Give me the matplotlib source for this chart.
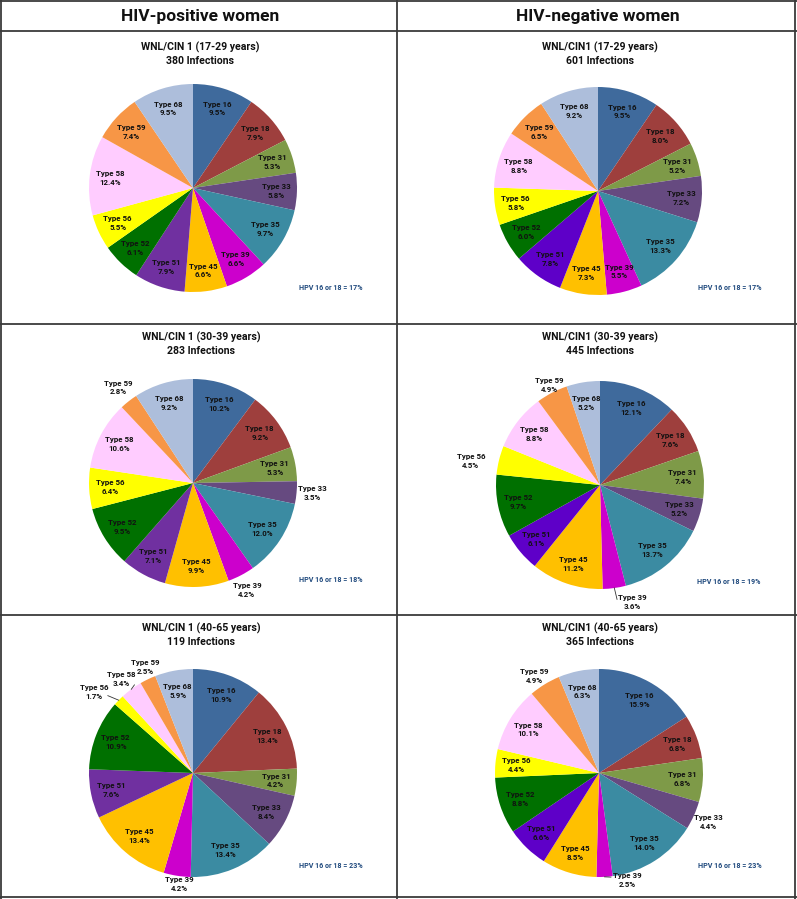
import matplotlib
matplotlib.use('Agg')
import matplotlib.pyplot as plt
import numpy as np

plt.rcParams['font.family'] = ['Roboto', 'DejaVu Sans']

W, H = 797, 899

# ---------------- data ----------------
types = ['16', '18', '31', '33', '35', '39', '45', '51', '52', '56', '58', '59', '68']
col_titles = ['HIV-positive women', 'HIV-negative women']
age_groups = ['17-29', '30-39', '40-65']
subtitle_prefix = ['WNL/CIN 1', 'WNL/CIN1']

pos_17_29 = [9.5, 7.9, 5.3, 5.8, 9.7, 6.6, 6.6, 7.9, 6.1, 5.5, 12.4, 7.4, 9.5]
neg_17_29 = [9.5, 8.0, 5.2, 7.2, 13.3, 5.5, 7.3, 7.8, 6.0, 5.8, 8.8, 6.5, 9.2]
pos_30_39 = [10.2, 9.2, 5.3, 3.5, 12.0, 4.2, 9.9, 7.1, 9.5, 6.4, 10.6, 2.8, 9.2]
neg_30_39 = [12.1, 7.6, 7.4, 5.2, 13.7, 3.6, 11.2, 6.1, 9.7, 4.5, 8.8, 4.9, 5.2]
pos_40_65 = [10.9, 13.4, 4.2, 8.4, 13.4, 4.2, 13.4, 7.6, 10.9, 1.7, 3.4, 2.5, 5.9]
neg_40_65 = [15.9, 6.8, 6.8, 4.4, 14.0, 2.5, 8.5, 6.6, 8.8, 4.4, 10.1, 4.9, 6.3]

infections = [380, 601, 283, 445, 119, 365]
hpv_16_or_18 = [17, 17, 18, 19, 23, 23]

panel_values = [pos_17_29, neg_17_29, pos_30_39, neg_30_39, pos_40_65, neg_40_65]

colors_pos = ['#3F6A9C', '#9E3F3D', '#7E9A48', '#664A80', '#3B8BA2', '#CC00CC', '#FFC000',
              '#7030A0', '#007000', '#FFFF00', '#FFCCFF', '#F79646', '#ADBEDB']
colors_neg = ['#3F6A9C', '#9E3F3D', '#7E9A48', '#664A80', '#3B8BA2', '#CC00CC', '#FFC000',
              '#5E00C8', '#007000', '#FFFF00', '#FFCCFF', '#F79646', '#ADBEDB']

# ---------------- layout ----------------
centers = [(193, 188), (598, 191), (193, 483), (600, 485), (193, 773), (599, 773)]
R = 104
title_xy = [(200, 47), (600, 47), (201, 337), (600, 337), (201, 628), (600, 628)]
hpv_xy = [(331, 288), (730, 288), (331, 580), (729, 582), (331, 866), (730, 866)]
# outside labels: panel -> {type: (radial factor, dx, dy, leader end offset or None)}
outside = {
    2: {'59': (1.18, 1, 1, None), '33': (1.17, -2, -1, None), '39': (1.16, -2, 0, None)},
    3: {'59': (1.13, 4, 4, None), '56': (1.22, -6, 6, None),
        '39': (1.12, 16, 2, (-15, -3))},
    4: {'59': (1.16, 5, 3, None), '58': (1.16, 0, 3, (13, 6)),
        '56': (1.2, -10, 6, (14, 4)), '39': (1.06, 3, 2, None)},
    5: {'59': (1.15, -2, 5, None), '33': (1.17, -2, -1, None),
        '39': (1.07, 22, -4, (-16, -3))},
}

fig = plt.figure(figsize=(W / 100, H / 100), dpi=100)
ax = fig.add_axes([0, 0, 1, 1])


def Y(y):
    return H - y


txt_color = '#111111'
lab_fs = 5.7

for i, vals in enumerate(panel_values):
    cx, cy = centers[i]
    cols = colors_pos if i % 2 == 0 else colors_neg
    wedges, _ = ax.pie(vals, colors=cols, startangle=90, counterclock=False,
                       radius=R, center=(cx, Y(cy)), frame=False,
                       wedgeprops=dict(linewidth=0, antialiased=True))
    out = outside.get(i, {})
    for w, t, v in zip(wedges, types, vals):
        mid = np.deg2rad((w.theta1 + w.theta2) / 2)
        label = f'Type {t}\n{v:.1f}%'
        if t in out:
            f, dx, dy, lead = out[t]
            lx = cx + f * R * np.cos(mid) + dx
            ly = cy - f * R * np.sin(mid) + dy
            if lead is not None:
                ex = cx + 1.0 * R * np.cos(mid)
                ey = cy - 1.0 * R * np.sin(mid)
                ax.plot([ex, lx + lead[0]], [Y(ey), Y(ly + lead[1])],
                        color='#333333', lw=0.6)
        else:
            lx = cx + 0.8 * R * np.cos(mid)
            ly = cy - 0.8 * R * np.sin(mid)
        ax.text(lx, Y(ly), label, ha='center', va='center', fontsize=lab_fs,
                fontweight='bold', color=txt_color, linespacing=1.3)

    col = i % 2
    row = i // 2
    tx, ty = title_xy[i]
    ax.text(tx, Y(ty), f'{subtitle_prefix[col]} ({age_groups[row]} years)',
            ha='center', va='center', fontsize=7.6, fontweight='bold', color='#111111')
    ax.text(tx, Y(ty + 14), f'{infections[i]} Infections',
            ha='center', va='center', fontsize=7.6, fontweight='bold', color='#111111')
    hx, hy = hpv_xy[i]
    ax.text(hx, Y(hy), f'HPV 16 or 18 = {hpv_16_or_18[i]}%', ha='center', va='center',
            fontsize=5.1, fontweight='bold', color='#1F497D')

# column headers
ax.text(200, Y(16), col_titles[0], ha='center', va='center', fontsize=12.5,
        fontweight='bold', color='#111111')
ax.text(598, Y(16), col_titles[1], ha='center', va='center', fontsize=12.5,
        fontweight='bold', color='#111111')

# grid lines
lc = '#3a3a3a'
lw = 1.3
for yy in [1, 31, 324, 615, 897]:
    ax.plot([0, W], [Y(yy), Y(yy)], color=lc, lw=lw, solid_capstyle='butt')
for xx in [1, 397, 795.5]:
    ax.plot([xx, xx], [Y(0), Y(H)], color=lc, lw=lw, solid_capstyle='butt')

ax.set_xlim(0, W)
ax.set_ylim(0, H)
ax.set_aspect('auto')
ax.axis('off')

fig.savefig('out.png', dpi=100, facecolor='white')
